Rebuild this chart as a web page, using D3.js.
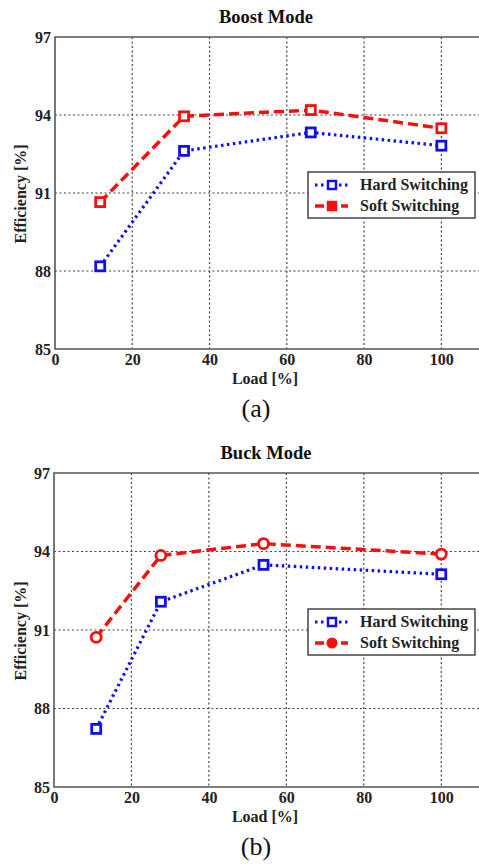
<!DOCTYPE html>
<html>
<head>
<meta charset="utf-8">
<script src="https://cdn.jsdelivr.net/npm/d3@7"></script>
<style>
  body { margin: 0; background: #fff; }
</style>
</head>
<body>
<svg id="fig" width="479" height="864"></svg>
<script>
var FONT = "'Liberation Serif', 'Times New Roman', Times, 'DejaVu Serif', serif";

// tick labels
var xTicks = [0, 20, 40, 60, 80, 100];
var yTicks = [85, 88, 91, 94, 97];
var seriesNames = ["Hard Switching", "Soft Switching"];

// Boost mode (a)
var boostLoad = [11.7, 33.4, 66.2, 100];
var boostHard = [88.18, 92.62, 93.33, 92.82];
var boostSoft = [90.65, 93.95, 94.19, 93.49];

// Buck mode (b)
var buckLoad = [10.9, 27.6, 54.1, 100];
var buckHard = [87.22, 92.08, 93.49, 93.13];
var buckSoft = [90.72, 93.85, 94.3, 93.9];

var svg = d3.select("#fig");

function txt(sel, size, bold){
	return sel.style("font-family", FONT).style("font-size", size + "px")
		.style("font-weight", bold ? "bold" : "normal");
}

function panel(opt){
	var left = opt.left, top = opt.top, bottom = opt.bottom, right = 480;

	var x = d3.scaleLinear().domain([0,110]).range([left, right]);
	var y = d3.scaleLinear().domain([85,97]).range([bottom, top]);

	var g = svg.append("g");

	// grid
	g.selectAll(".vgrid").data(xTicks.slice(1))
		.enter().append("line")
		.attr("x1", d => x(d)).attr("x2", d => x(d))
		.attr("y1", top).attr("y2", bottom)
		.attr("stroke", "#444").attr("stroke-width", 1.2)
		.attr("stroke-dasharray", "2,2.5");
	g.selectAll(".hgrid").data(yTicks.slice(1, -1))
		.enter().append("line")
		.attr("x1", left).attr("x2", right)
		.attr("y1", d => y(d)).attr("y2", d => y(d))
		.attr("stroke", "#444").attr("stroke-width", 1.2)
		.attr("stroke-dasharray", "2,2.5");

	// frame: left, bottom, top
	g.append("path")
		.attr("d", "M" + right + "," + top + "H" + left + "V" + bottom + "H" + right)
		.attr("fill", "none").attr("stroke", "#555").attr("stroke-width", 1.6);

	var xAxis = d3.axisBottom(x).tickValues(xTicks).tickSize(0).tickPadding(5);
	var yAxis = d3.axisLeft(y).tickValues(yTicks).tickSize(0).tickPadding(4);

	var gx = g.append("g").attr("transform", "translate(0," + bottom + ")").call(xAxis);
	gx.select(".domain").remove();
	txt(gx.selectAll("text"), 16, true).attr("fill", "#222");

	var gy = g.append("g").attr("transform", "translate(" + left + ",0)").call(yAxis);
	gy.select(".domain").remove();
	txt(gy.selectAll("text"), 16, true).attr("fill", "#222");

	// title
	txt(g.append("text"), 18.5, true).attr("x", 266).attr("y", top - 14)
		.attr("text-anchor", "middle").attr("fill", "#111").text(opt.title);

	txt(g.append("text"), 16, true).attr("x", 265).attr("y", bottom + 35)
		.attr("text-anchor", "middle").attr("fill", "#222").text("Load [%]");

	txt(g.append("text"), 16, true)
		.attr("text-anchor", "middle")
		.attr("transform", "translate(26," + opt.ylabelY + ")rotate(-90)")
		.attr("fill", "#222")
		.text("Efficiency [%]");

	txt(g.append("text"), 26, false).attr("x", 256).attr("y", bottom + 68)
		.attr("text-anchor", "middle").attr("fill", "#111").text(opt.caption);

	// series
	var hard = opt.load.map((d, i) => ({x: d, y: opt.hard[i]}));
	var soft = opt.load.map((d, i) => ({x: d, y: opt.soft[i]}));
	var line = d3.line().x(d => x(d.x)).y(d => y(d.y));

	g.append("path").datum(hard).attr("d", line)
		.attr("fill", "none").attr("stroke", "#1010e8").attr("stroke-width", 3.2)
		.attr("stroke-dasharray", "2.5,3.5");
	g.append("path").datum(soft).attr("d", line)
		.attr("fill", "none").attr("stroke", "#f51010").attr("stroke-width", 3.5)
		.attr("stroke-dasharray", "10,5");

	g.selectAll(".mh").data(hard).enter().append("rect")
		.attr("x", d => x(d.x) - 4.5).attr("y", d => y(d.y) - 4.5)
		.attr("width", 9).attr("height", 9)
		.attr("fill", "#fff").attr("stroke", "#1010e8").attr("stroke-width", 2.8);

	if (opt.softMarker == "circle") {
		g.selectAll(".ms").data(soft).enter().append("circle")
			.attr("cx", d => x(d.x)).attr("cy", d => y(d.y)).attr("r", 5)
			.attr("fill", "#fff").attr("stroke", "#f51010").attr("stroke-width", 2.8);
	} else {
		g.selectAll(".ms").data(soft).enter().append("rect")
			.attr("x", d => x(d.x) - 4.5).attr("y", d => y(d.y) - 4.5)
			.attr("width", 9).attr("height", 9)
			.attr("fill", "#fff").attr("stroke", "#f51010").attr("stroke-width", 2.8);
	}

	// legend
	var lg = g.append("g").attr("transform", "translate(308," + opt.legendTop + ")");
	lg.append("rect").attr("width", 167).attr("height", 46)
		.attr("fill", "#fff").attr("stroke", "#444").attr("stroke-width", 1.5);
	var rows = [
		{name: seriesNames[0], color: "#1010e8", dash: "2.5,3.5", sw: 3.2, mk: "square"},
		{name: seriesNames[1], color: "#f51010", dash: "9,4", sw: 3.5, mk: opt.softMarker}
	];
	rows.forEach(function(r, i){
		var yy = 13 + i * 21;
		lg.append("line").attr("x1", 7).attr("x2", 40).attr("y1", yy).attr("y2", yy)
			.attr("stroke", r.color).attr("stroke-width", r.sw).attr("stroke-dasharray", r.dash);
		if (r.mk == "circle") {
			lg.append("circle").attr("cx", 24).attr("cy", yy).attr("r", 4.5)
				.attr("fill", r.color).attr("stroke", r.color).attr("stroke-width", 2);
		} else {
			lg.append("rect").attr("x", 20).attr("y", yy - 4).attr("width", 8).attr("height", 8)
				.attr("fill", i == 0 ? "#fff" : r.color).attr("stroke", r.color).attr("stroke-width", 2.5);
		}
		txt(lg.append("text"), 16, true).attr("x", 52).attr("y", yy + 5)
			.attr("fill", "#222").text(r.name);
	});
}

panel({title: "Boost Mode", caption: "(a)", left: 55, top: 37, bottom: 349, ylabelY: 194,
	load: boostLoad, hard: boostHard, soft: boostSoft, softMarker: "square", legendTop: 172});
panel({title: "Buck Mode", caption: "(b)", left: 54, top: 473, bottom: 787, ylabelY: 631,
	load: buckLoad, hard: buckHard, soft: buckSoft, softMarker: "circle", legendTop: 609});
</script>
</body>
</html>
